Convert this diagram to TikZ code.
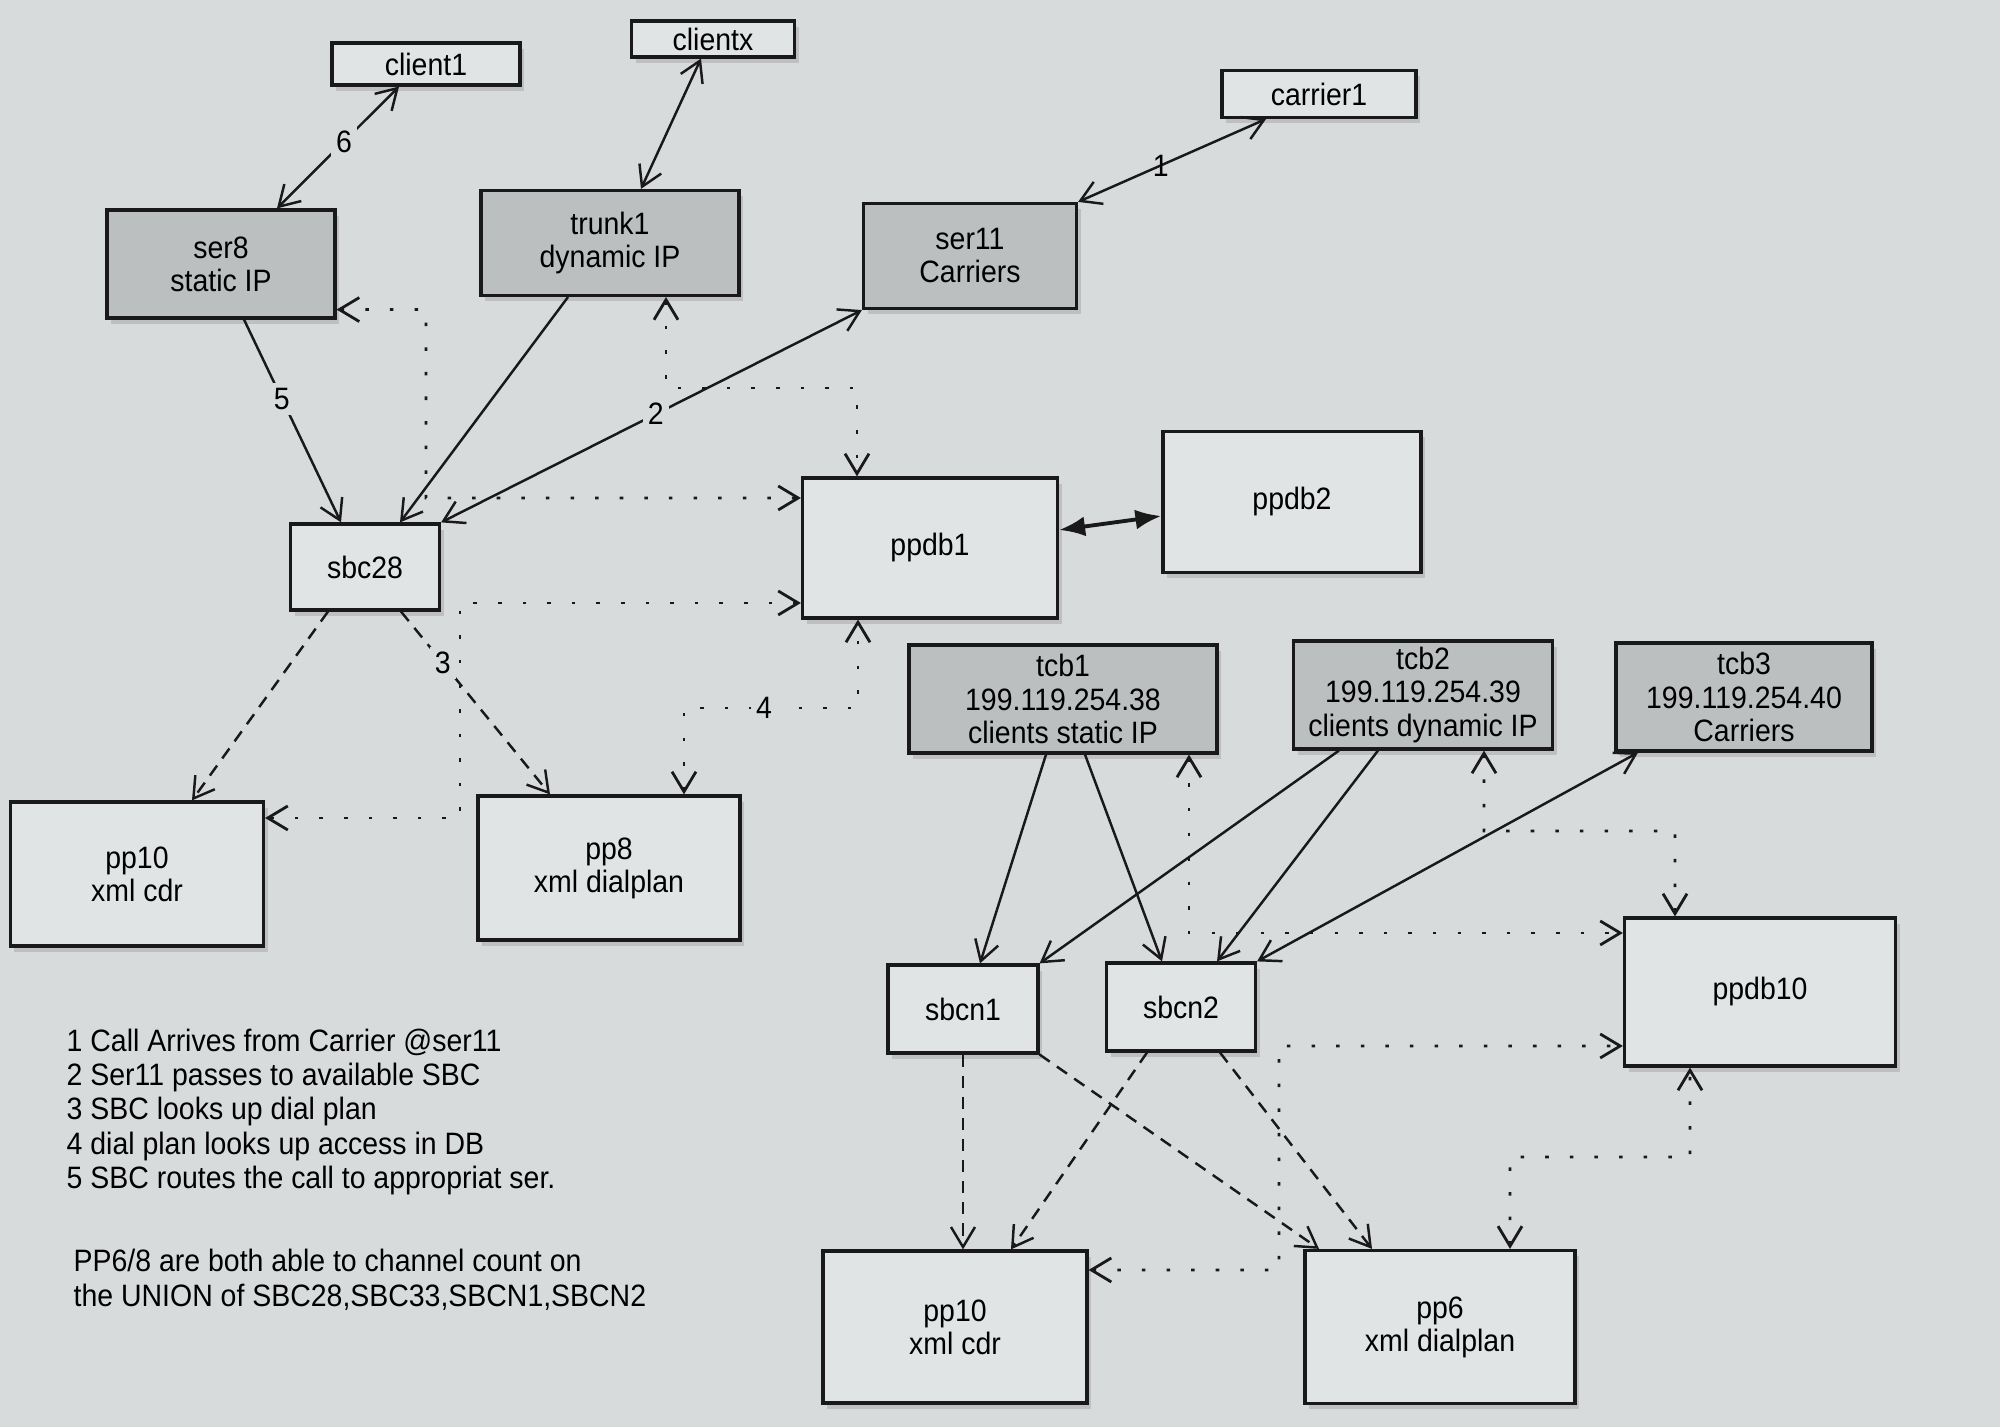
\documentclass[tikz,border=0pt]{standalone}
\usepackage{fontspec}
\setmainfont[FakeStretch=0.92]{Liberation Sans}
\usepackage{tikz}
\usetikzlibrary{arrows.meta,shadows}
\definecolor{paper}{RGB}{216,219,220}
\definecolor{lightbox}{RGB}{225,228,229}
\definecolor{greybox}{RGB}{188,191,192}
\definecolor{ink}{RGB}{25,25,25}
\newcommand{\boxfont}{\fontsize{8.8}{9.4}\selectfont}

\begin{document}
\begin{tikzpicture}[
  >={Straight Barb[length = 2mm, width = 2.4mm]},
  db/.style = {draw = ink, line width = 0.9pt, fill = lightbox, align = center, inner sep = 0pt, font = \boxfont,
    drop shadow = {shadow xshift = 0.4mm, shadow yshift = -0.6mm, opacity = 0.3}},
  srv/.style = {db, fill = greybox},
  num/.style = {fill = paper, inner sep = 1.5pt, font = \boxfont},
  link/.style = {draw = ink, line width = 0.7pt},
  dashlink/.style = {link, dash pattern = on 3.5pt off 2.5pt},
  dotlink/.style = {link, line width = 0.8pt, dash pattern = on 1pt off 6pt},
  dblink/.style = {draw = ink, line width = 1.1pt, {Latex[length = 2.6mm, width = 2mm]}-{Latex[length = 2.6mm, width = 2mm]}}
]
\fill [paper] (0, 0) rectangle (20, 14.27);
\useasboundingbox (0, 0) rectangle (20, 14.27);
%\draw [help lines] (0, 0) grid (20, 14);

\node [db, minimum width = 1.88cm, minimum height = 0.42cm] (client1) at (4.26, 13.63) {client1};
\node [db, minimum width = 1.63cm, minimum height = 0.36cm] (clientx) at (7.13, 13.88) {clientx};
\node [db, minimum width = 1.94cm, minimum height = 0.47cm] (carrier1) at (13.19, 13.33) {carrier1};
\node [srv, minimum width = 2.28cm, minimum height = 1.08cm] (ser8) at (2.21, 11.63) {ser8\\static IP};
\node [srv, minimum width = 2.58cm, minimum height = 1.05cm] (trunk1) at (6.10, 11.84) {trunk1\\dynamic IP};
\node [srv, minimum width = 2.13cm, minimum height = 1.05cm] (ser11) at (9.70, 11.71) {ser11\\Carriers};
\node [db, minimum width = 1.49cm, minimum height = 0.86cm] (sbc28) at (3.65, 8.60) {sbc28};
\node [db, minimum width = 2.55cm, minimum height = 1.40cm] (ppdb1) at (9.30, 8.79) {ppdb1};
\node [db, minimum width = 2.58cm, minimum height = 1.41cm] (ppdb2) at (12.92, 9.25) {ppdb2};
\node [db, minimum width = 2.53cm, minimum height = 1.44cm] (cdrA) at (1.37, 5.53) {pp10\\xml cdr};
\node [db, minimum width = 2.62cm, minimum height = 1.44cm] (pp8) at (6.09, 5.59) {pp8\\xml dialplan};

\node [srv, minimum width = 3.08cm, minimum height = 1.08cm] (tcb1) at (10.63, 7.28) {tcb1\\199.119.254.38\\clients static IP};
\node [srv, minimum width = 2.59cm, minimum height = 1.08cm] (tcb2) at (14.23, 7.32) {tcb2\\199.119.254.39\\clients dynamic IP};
\node [srv, minimum width = 2.56cm, minimum height = 1.08cm] (tcb3) at (17.44, 7.30) {tcb3\\199.119.254.40\\Carriers};
\node [db, minimum width = 1.50cm, minimum height = 0.88cm] (sbcn1) at (9.63, 4.18) {sbcn1};
\node [db, minimum width = 1.49cm, minimum height = 0.88cm] (sbcn2) at (11.81, 4.20) {sbcn2};
\node [db, minimum width = 2.71cm, minimum height = 1.48cm] (ppdb10) at (17.60, 4.35) {ppdb10};
\node [db, minimum width = 2.64cm, minimum height = 1.52cm] (cdrB) at (9.55, 1.00) {pp10\\xml cdr};
\node [db, minimum width = 2.70cm, minimum height = 1.53cm] (pp6) at (14.40, 1.00) {pp6\\xml dialplan};

\node [anchor = west, align = left, inner sep = 0pt, font = \fontsize{8.8}{9.8}\selectfont] (steps) at (0.66, 3.15) {1 Call Arrives from Carrier @ser11\\2 Ser11 passes to available SBC\\3 SBC looks up dial plan\\4 dial plan looks up access in DB\\5 SBC routes the call to appropriat ser.};
\node [anchor = west, align = left, inner sep = 0pt, font = \fontsize{8.8}{9.8}\selectfont] (note) at (0.73, 1.47) {PP6/8 are both able to channel count on\\the UNION of SBC28,SBC33,SBCN1,SBCN2};

% call path
\draw [link, <->] ([xshift = -0.27cm]client1.south) -- node [num, pos = 0.45] {6} ([xshift = 0.56cm]ser8.north);
\draw [link, <->] ([xshift = -0.12cm]clientx.south) -- ([xshift = 0.31cm]trunk1.north);
\draw [link, <->] ([xshift = -0.53cm]carrier1.south) -- node [pos = 0.56, font = \boxfont] {1} (ser11.north east);
\draw [link, ->] ([xshift = 0.23cm]ser8.south) -- node [num, pos = 0.39] {5} ([xshift = -0.24cm]sbc28.north);
\draw [link, ->] ([xshift = -0.42cm]trunk1.south) -- ([xshift = 0.35cm]sbc28.north);
\draw [link, <->] (sbc28.north east) -- node [num, pos = 0.51] {2} (ser11.south west);
\draw [dblink] ([yshift = 0.18cm]ppdb1.east) -- ([yshift = -0.14cm]ppdb2.west);
\draw [dashlink, ->] ([xshift = -0.37cm]sbc28.south) -- ([xshift = 0.55cm]cdrA.north);
\draw [dashlink, ->] ([xshift = 0.36cm]sbc28.south) -- node [num, pos = 0.28] {3} ([xshift = -0.59cm]pp8.north);
\draw [dotlink, <->] ([yshift = 0.1cm]ser8.south east) -| (4.26, 9.29) -- ([yshift = 0.5cm]ppdb1.west);
\draw [dotlink, <->] ([xshift = 0.56cm]trunk1.south) |- (8.57, 10.39) -- ([xshift = -0.73cm]ppdb1.north);
\draw [dotlink, <->] ([yshift = -0.55cm]ppdb1.west) -| (4.60, 6.09) -- ([yshift = 0.56cm]cdrA.east);
\draw [dotlink, <->] ([xshift = 0.75cm]pp8.north) |- node [num, pos = 0.73] {4} (8.58, 7.19) -- ([xshift = -0.72cm]ppdb1.south);

% second site
\draw [link, ->] ([xshift = -0.17cm]tcb1.south) -- ([xshift = 0.17cm]sbcn1.north);
\draw [link, ->] ([xshift = 0.22cm]tcb1.south) -- ([xshift = -0.19cm]sbcn2.north);
\draw [link, ->] ([xshift = -0.84cm]tcb2.south) -- (sbcn1.north east);
\draw [link, ->] ([xshift = -0.45cm]tcb2.south) -- ([xshift = 0.36cm]sbcn2.north);
\draw [link, <->] (sbcn2.north east) -- ([xshift = -1.06cm]tcb3.south);
\draw [dashlink, ->] (sbcn1.south) -- (sbcn1.south |- cdrB.north);
\draw [dashlink, ->] (sbcn1.south east) -- ([xshift = -1.21cm]pp6.north);
\draw [dashlink, ->] ([xshift = -0.34cm]sbcn2.south) -- ([xshift = 0.56cm]cdrB.north);
\draw [dashlink, ->] ([xshift = 0.39cm]sbcn2.south) -- ([xshift = -0.68cm]pp6.north);
\draw [dotlink, <->] ([yshift = 0.57cm]cdrB.east) -| (12.79, 3.81) -- ([yshift = -0.54cm]ppdb10.west);
\draw [dotlink, <->] ([xshift = 1.26cm]tcb1.south) |- ([yshift = 0.59cm]ppdb10.west);
\draw [dotlink, <->] ([xshift = 0.61cm]tcb2.south) |- (16.75, 5.96) -- ([xshift = -0.85cm]ppdb10.north);
\draw [dotlink, <->] ([xshift = 0.70cm]pp6.north) |- (16.90, 2.70) -- ([xshift = -0.70cm]ppdb10.south);
\end{tikzpicture}
\end{document}
